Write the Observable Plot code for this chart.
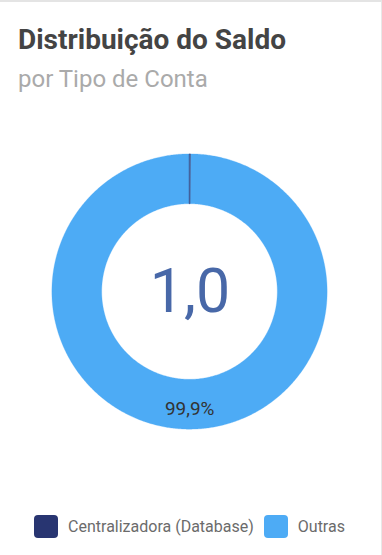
<!DOCTYPE html>
<html><head><meta charset="utf-8">
<script src="https://cdn.jsdelivr.net/npm/d3@7"></script>
<script src="https://cdn.jsdelivr.net/npm/@observablehq/plot@0.6"></script>
<style>
html,body{margin:0;padding:0;background:#fff;}
#card{position:relative;width:382px;height:555px;box-sizing:border-box;border-top:2px solid #e4e4e4;border-right:1px solid #e8e8e8;font-family:Roboto,sans-serif;overflow:hidden;background:#fff;}
#title{position:absolute;left:18px;top:24px;font-size:28px;font-weight:700;line-height:1;color:#444;white-space:nowrap;}
#subtitle{position:absolute;left:18px;top:65px;font-size:24px;line-height:1;color:#aaa;white-space:nowrap;}
#chart{position:absolute;left:0;top:108px;}
#legend{position:absolute;left:0;width:379px;top:513px;display:flex;justify-content:center;align-items:center;font-size:16px;color:#6b6b6b;}
.sw{width:24px;height:23px;border-radius:4px;margin-right:10px;flex:none;}
.it{display:flex;align-items:center;margin:0 5px;}
</style></head>
<body>
<div id="card">
  <div id="title"></div>
  <div id="subtitle"></div>
  <div id="chart"></div>
  <div id="legend"></div>
</div>
<script>
const titleText = "Distribuição do Saldo";
const subtitleText = "por Tipo de Conta";
const categories = ["Centralizadora (Database)", "Outras"];
const values = [0.1, 99.9];
const colors = ["#283571", "#4dabf5"];
const centerLabel = "1,0";
const innerRatio = 0.638;

document.getElementById("title").textContent = titleText;
document.getElementById("subtitle").textContent = subtitleText;

const data = categories.map((name, i) => ({name, value: values[i]}));
const total = d3.sum(values);
const arcs = d3.pie().sort(null).value(d => d.value)(data);

// ring points: outer (x1,y1) and inner (x2,y2) along each slice's angle
const ring = [];
for (const a of arcs) {
  const n = Math.max(2, Math.ceil((a.endAngle - a.startAngle) / (2 * Math.PI) * 720));
  for (let k = 0; k <= n; k++) {
    const t = a.startAngle + (a.endAngle - a.startAngle) * k / n;
    ring.push({name: a.data.name, share: a.data.value / total, x1: Math.sin(t), y1: Math.cos(t), x2: innerRatio * Math.sin(t), y2: innerRatio * Math.cos(t)});
  }
}
const fmt = v => (v).toFixed(1).replace(".", ",") + "%";
const labels = arcs.filter(a => a.data.value / total >= 0.05).map(a => {
  const m = (a.startAngle + a.endAngle) / 2, r = (1 + innerRatio) / 2;
  return {x: r * Math.sin(m), y: r * Math.cos(m), text: fmt(a.data.value / total * 100)};
});

const chart = Plot.plot({
  width: 382, height: 362,
  marginLeft: 52, marginRight: 54, marginTop: 44, marginBottom: 42,
  x: {domain: [-1, 1], axis: null},
  y: {domain: [-1, 1], axis: null},
  color: {domain: categories, range: colors},
  style: {fontFamily: "Roboto, sans-serif", background: "transparent"},
  marks: [
    Plot.area(ring, {filter: d => d.share >= 0.01, x1: "x1", y1: "y1", x2: "x2", y2: "y2", z: "name", fill: "name", stroke: "name", strokeWidth: 0.3}),
    Plot.area(ring, {filter: d => d.share < 0.01, x1: "x1", y1: "y1", x2: "x2", y2: "y2", z: "name", fill: "name", stroke: "name", strokeWidth: 0.4}),
    Plot.text([centerLabel], {frameAnchor: "middle", text: d => d, fontSize: 61, fill: "#4868a8", dy: 1}),
    Plot.text(labels, {x: "x", y: "y", text: "text", fontSize: 19, fill: "#333", dy: 4})
  ]
});
document.getElementById("chart").appendChild(chart);

const legend = document.getElementById("legend");
categories.forEach((c, i) => {
  const it = document.createElement("div"); it.className = "it";
  const sw = document.createElement("div"); sw.className = "sw"; sw.style.background = colors[i];
  const tx = document.createElement("span"); tx.textContent = c;
  it.appendChild(sw); it.appendChild(tx); legend.appendChild(it);
});
</script>
</body></html>
